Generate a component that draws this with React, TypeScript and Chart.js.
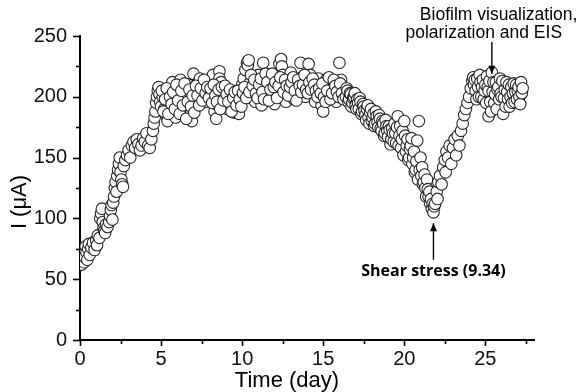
import React, { useEffect, useRef } from "react";
import { Chart, registerables } from "chart.js";

Chart.register(...registerables);

// ---- Data (day, current in µA) ----
const growthPhase: [number, number][] = [
  [0.05, 66], [0.1, 62], [0.15, 70], [0.2, 74], [0.25, 64], [0.3, 68], [0.35, 77], [0.4, 72],
  [0.45, 66], [0.5, 75], [0.55, 79], [0.6, 70], [0.7, 76], [0.8, 80], [0.9, 74], [1.0, 82],
  [1.05, 78], [1.1, 86], [1.2, 84], [1.25, 100], [1.3, 104], [1.35, 108], [1.4, 97], [1.45, 92],
  [1.5, 90], [1.55, 88], [1.6, 95], [1.7, 93], [1.8, 97], [1.85, 102], [1.9, 107], [1.95, 111],
  [2.0, 99], [2.05, 113], [2.1, 118], [2.15, 125], [2.2, 130], [2.25, 122], [2.3, 135], [2.35, 140],
  [2.4, 145], [2.45, 150], [2.5, 138], [2.55, 132], [2.6, 128], [2.65, 126], [2.7, 143], [2.8, 148],
  [2.9, 152], [3.0, 156], [3.1, 150], [3.2, 160], [3.3, 163], [3.4, 158], [3.5, 165], [3.6, 161],
  [3.7, 156], [3.8, 160], [3.9, 166], [4.0, 163], [4.1, 170], [4.2, 160], [4.3, 158], [4.4, 165],
  [4.5, 172], [4.55, 178], [4.6, 183], [4.65, 188], [4.7, 195], [4.75, 200], [4.8, 205], [4.85, 208],
  [4.9, 202], [4.95, 196], [5.0, 192],
];

const plateauPhase: [number, number][] = [
  [5.1, 200], [5.2, 190], [5.3, 185], [5.4, 180], [5.5, 195], [5.6, 205], [5.7, 212], [5.8, 199],
  [5.9, 183], [6.0, 190], [6.1, 208], [6.2, 214], [6.3, 202], [6.4, 196], [6.5, 188], [6.6, 200],
  [6.7, 210], [6.8, 185], [6.9, 180], [7.0, 219], [7.0, 194], [7.1, 204], [7.2, 198], [7.3, 212],
  [7.4, 215], [7.5, 206], [7.6, 200], [7.7, 210], [7.8, 196], [7.9, 203], [8.0, 213], [8.1, 205],
  [8.2, 218], [8.2, 198], [8.3, 188], [8.4, 182], [8.5, 193], [8.6, 221], [8.6, 215], [8.7, 212],
  [8.8, 200], [8.9, 203], [9.0, 195], [9.1, 190], [9.2, 200], [9.3, 198], [9.4, 192], [9.5, 187],
  [9.6, 201], [9.7, 195], [9.8, 186], [9.9, 204], [10.0, 210], [10.1, 215], [10.2, 222], [10.3, 228],
  [10.35, 226], [10.4, 230], [10.5, 212], [10.6, 205], [10.7, 200], [10.8, 196], [10.9, 210], [11.0, 218],
  [11.1, 206], [11.2, 193], [11.3, 228], [11.4, 214], [11.5, 209], [11.6, 203], [11.7, 216], [11.8, 212],
  [11.9, 200], [12.0, 194], [12.1, 205], [12.2, 213], [12.3, 227], [12.4, 231], [12.45, 225], [12.5, 218],
  [12.6, 210], [12.7, 196], [12.8, 208], [12.9, 215], [13.0, 220], [13.1, 205], [13.2, 198], [13.3, 212],
  [13.4, 208], [13.5, 202], [13.6, 228], [13.7, 216], [13.8, 207], [13.9, 200], [14.0, 211], [14.1, 227],
  [14.2, 218], [14.3, 209], [14.4, 204], [14.5, 196], [14.6, 213], [14.7, 215], [14.8, 210], [14.9, 193],
  [15.0, 188], [15.1, 206], [15.2, 214], [15.3, 210], [15.4, 204], [15.5, 212], [15.6, 207], [15.7, 199],
  [15.8, 196], [15.9, 210], [16.0, 228], [16.1, 214], [16.2, 208], [16.3, 204],
];

const plateauExtra: [number, number][] = [
  [5.05, 205], [5.15, 188], [5.25, 198], [5.35, 207], [5.45, 186], [5.55, 200], [5.65, 194], [5.75, 204],
  [5.85, 190], [5.95, 210], [6.05, 197], [6.15, 186], [6.25, 205], [6.35, 193], [6.45, 211], [6.55, 182],
  [6.65, 196], [6.75, 206], [6.85, 192], [6.95, 201], [7.05, 187], [7.15, 209], [7.25, 201], [7.35, 193],
  [7.45, 207], [7.55, 197], [7.65, 214], [7.75, 203], [7.85, 208], [7.95, 199], [8.05, 207], [8.15, 195],
  [8.25, 210], [8.35, 201], [8.45, 196], [8.55, 206], [8.65, 190], [8.75, 208], [8.85, 197], [8.95, 209],
  [9.05, 202], [9.15, 196], [9.25, 206], [9.35, 188], [9.45, 199], [9.55, 204], [9.65, 193], [9.75, 205],
  [9.85, 198], [9.95, 192], [10.05, 203], [10.15, 208], [10.25, 199], [10.45, 204], [10.55, 218], [10.65, 209],
  [10.75, 214], [10.85, 203], [10.95, 199], [11.05, 210], [11.15, 215], [11.25, 204], [11.35, 198], [11.45, 219],
  [11.55, 212], [11.65, 197], [11.75, 206], [11.85, 219], [11.95, 208], [12.05, 212], [12.15, 199], [12.25, 209],
  [12.35, 216], [12.55, 204], [12.65, 214], [12.75, 209], [12.85, 201], [12.95, 208], [13.05, 212], [13.15, 216],
  [13.25, 205], [13.35, 197], [13.45, 214], [13.55, 209], [13.65, 204], [13.75, 210], [13.85, 218], [13.95, 206],
  [14.05, 203], [14.15, 212], [14.25, 206], [14.35, 215], [14.45, 210], [14.55, 205], [14.65, 200], [14.75, 207],
  [14.85, 203], [14.95, 211], [15.05, 200], [15.15, 196], [15.25, 205], [15.35, 216], [15.45, 198], [15.55, 203],
  [15.65, 214], [15.75, 209], [15.85, 204], [15.95, 200], [16.05, 211], [16.15, 203], [16.25, 198],
];

const declinePhase: [number, number][] = [
  [16.4, 200], [16.45, 207], [16.5, 205], [16.55, 196], [16.6, 198], [16.65, 203], [16.7, 202], [16.75, 192],
  [16.8, 195], [16.85, 199], [16.9, 200], [16.95, 203], [17.0, 193], [17.05, 190], [17.1, 198], [17.15, 195],
  [17.2, 190], [17.25, 199], [17.3, 196], [17.35, 186], [17.4, 188], [17.45, 194], [17.5, 192], [17.55, 189],
  [17.6, 185], [17.65, 181], [17.7, 190], [17.75, 193], [17.8, 183], [17.85, 178], [17.9, 187], [17.95, 190],
  [18.0, 180], [18.05, 183], [18.1, 186], [18.15, 176], [18.2, 178], [18.25, 188], [18.3, 184], [18.35, 179],
  [18.4, 175], [18.45, 185], [18.5, 182], [18.55, 174], [18.6, 172], [18.65, 180], [18.7, 178], [18.75, 168],
  [18.8, 170], [18.85, 181], [18.9, 176], [18.95, 172], [19.0, 167], [19.05, 176], [19.1, 173], [19.15, 161],
  [19.2, 165], [19.25, 174], [19.3, 170], [19.35, 163], [19.4, 178], [19.45, 170], [19.5, 162], [19.55, 175],
  [19.6, 184], [19.65, 160], [19.7, 168], [19.75, 176], [19.8, 158], [19.85, 165], [19.9, 172], [19.95, 152],
  [20.0, 180], [20.05, 168], [20.1, 155], [20.15, 160], [20.2, 165], [20.25, 148], [20.3, 150], [20.35, 157],
  [20.4, 160], [20.45, 166], [20.5, 145], [20.55, 150], [20.6, 155], [20.65, 138], [20.7, 140], [20.75, 147],
  [20.8, 164], [20.85, 132], [20.9, 180], [20.95, 140], [21.0, 150], [21.05, 135], [21.1, 142], [21.15, 128],
  [21.2, 130], [21.25, 136], [21.3, 125], [21.35, 118], [21.4, 132], [21.45, 124], [21.5, 118], [21.55, 122],
  [21.6, 112], [21.65, 116], [21.7, 108], [21.75, 112], [21.8, 105], [21.85, 110],
];

const recoveryPhase: [number, number][] = [
  [21.9, 112], [22.0, 122], [22.05, 116], [22.1, 130], [22.2, 135], [22.3, 128], [22.4, 142], [22.5, 148],
  [22.55, 138], [22.6, 155], [22.7, 150], [22.8, 160], [22.9, 145], [23.0, 158], [23.1, 165], [23.2, 152],
  [23.3, 168], [23.4, 160], [23.5, 172], [23.6, 178], [23.7, 185], [23.8, 190], [23.9, 195], [24.0, 200],
  [24.1, 207], [24.2, 213], [24.25, 216], [24.3, 210], [24.35, 214], [24.4, 205], [24.45, 198], [24.5, 215],
  [24.55, 208], [24.6, 200], [24.65, 218], [24.7, 212], [24.75, 200], [24.8, 208], [24.85, 214], [24.9, 198],
  [24.95, 205], [25.0, 210], [25.05, 195], [25.1, 217], [25.15, 208], [25.2, 184], [25.2, 205], [25.25, 213],
  [25.3, 196], [25.35, 188], [25.4, 220], [25.45, 204], [25.5, 212], [25.55, 195], [25.6, 202], [25.65, 212],
  [25.7, 190], [25.75, 206], [25.8, 208], [25.85, 198], [25.9, 215], [25.95, 203], [26.0, 200], [26.05, 213],
  [26.1, 186], [26.15, 199], [26.2, 206], [26.25, 192], [26.3, 212], [26.35, 204], [26.4, 198], [26.45, 210],
  [26.5, 192], [26.55, 200], [26.6, 208], [26.65, 195], [26.7, 203], [26.75, 211], [26.8, 196], [26.85, 204],
  [26.9, 210], [26.95, 198], [27.0, 205], [27.05, 208], [27.1, 200], [27.15, 194], [27.2, 212], [27.25, 203],
  [27.3, 207],
];

// Axis setup
const xRange = [0, 28];
const yRange = [0, 250];
const xStep = 2.5;
const yStep = 25;
const xLabelEvery = 5;
const yLabelEvery = 50;

// Annotation anchors (in data units)
const shearAnchor = { x: 21.8, tipY: 96, tailY: 66, textY: 56, label: "Shear stress (9.34)" };
const biofilmAnchor = {
  x: 25.4,
  tipY: 219,
  tailY: 245,
  lines: [
    { text: "Biofilm visualization,", x: 25.82, y: 267.5 },
    { text: "polarization and EIS", x: 24.9, y: 252.5 },
  ],
};
const xTitle = "Time (day)";
const yTitle = "I (\u03BCA)";

const FONT = "'Liberation Sans', Arial, sans-serif";

function drawArrow(ctx: CanvasRenderingContext2D, x: number, y1: number, y2: number) {
  // y1 = tail, y2 = tip
  ctx.beginPath();
  ctx.moveTo(x, y1);
  ctx.lineTo(x, y2);
  ctx.stroke();
  const dir = y2 < y1 ? 1 : -1;
  ctx.beginPath();
  ctx.moveTo(x, y2);
  ctx.lineTo(x - 3.5, y2 + dir * 8);
  ctx.lineTo(x + 3.5, y2 + dir * 8);
  ctx.closePath();
  ctx.fill();
}

const decorPlugin = {
  id: "decor",
  afterDraw(chart: any) {
    const ctx: CanvasRenderingContext2D = chart.ctx;
    const xs = chart.scales.x;
    const ys = chart.scales.y;
    ctx.save();
    ctx.strokeStyle = "#000";
    ctx.fillStyle = "#000";
    ctx.lineWidth = 1.6;
    // tick marks
    xs.ticks.forEach((t: any) => {
      const px = Math.round(xs.getPixelForValue(t.value)) + 0.5;
      const major = Math.abs(t.value % xLabelEvery) < 1e-6;
      ctx.beginPath();
      ctx.moveTo(px, ys.bottom);
      ctx.lineTo(px, ys.bottom + (major ? 6 : 4));
      ctx.stroke();
    });
    ys.ticks.forEach((t: any) => {
      const py = Math.round(ys.getPixelForValue(t.value)) + 0.5;
      const major = Math.abs(t.value % yLabelEvery) < 1e-6;
      ctx.beginPath();
      ctx.moveTo(xs.left, py);
      ctx.lineTo(xs.left - (major ? 7 : 4), py);
      ctx.stroke();
    });

    // axis titles
    ctx.font = `22px ${FONT}`;
    ctx.textAlign = "center";
    ctx.textBaseline = "middle";
    ctx.fillText(xTitle, 287, 381);
    ctx.save();
    ctx.translate(20, 202);
    ctx.rotate(-Math.PI / 2);
    ctx.fillText(yTitle, 0, 0);
    ctx.restore();

    // shear stress annotation
    ctx.lineWidth = 1.4;
    const sx = xs.getPixelForValue(shearAnchor.x);
    drawArrow(ctx, sx, ys.getPixelForValue(shearAnchor.tailY), ys.getPixelForValue(shearAnchor.tipY));
    ctx.font = `bold 16px 'Open Sans', ${FONT}`;
    ctx.fillText(shearAnchor.label, sx, ys.getPixelForValue(shearAnchor.textY));

    // biofilm annotation
    const bx = xs.getPixelForValue(biofilmAnchor.x);
    drawArrow(ctx, bx, ys.getPixelForValue(biofilmAnchor.tailY), ys.getPixelForValue(biofilmAnchor.tipY));
    ctx.font = `17.5px ${FONT}`;
    biofilmAnchor.lines.forEach((l) => {
      ctx.fillText(l.text, xs.getPixelForValue(l.x), ys.getPixelForValue(l.y));
    });
    ctx.restore();
  },
};

export default function App() {
  const canvasRef = useRef<HTMLCanvasElement | null>(null);

  useEffect(() => {
    if (!canvasRef.current) return;
    const points = [...growthPhase, ...plateauPhase, ...plateauExtra, ...declinePhase, ...recoveryPhase]
      .map(([x, y]) => ({ x, y }));
    const chart = new Chart(canvasRef.current, {
      type: "scatter",
      data: {
        datasets: [
          {
            data: points,
            pointStyle: "circle",
            pointRadius: 5.8,
            pointBorderWidth: 1.1,
            pointBorderColor: "rgba(20,20,20,0.9)",
            pointBackgroundColor: "#ffffff",
          },
        ],
      },
      options: {
        animation: false,
        responsive: false,
        events: [],
        layout: { padding: { top: 36, right: 45, left: 0, bottom: 0 } },
        plugins: { legend: { display: false }, tooltip: { enabled: false } },
        scales: {
          x: {
            type: "linear",
            min: xRange[0],
            max: xRange[1],
            grid: { display: false, drawTicks: false, tickLength: 0 },
            border: { display: true, color: "#000", width: 2 },
            ticks: {
              stepSize: xStep,
              includeBounds: false,
              autoSkip: false,
              maxRotation: 0,
              padding: 7,
              color: "#111",
              font: { family: FONT, size: 20 },
              callback: (v: any) => (Math.abs(Number(v) % xLabelEvery) < 1e-6 ? String(v) : ""),
            },
            afterFit: (scale: any) => {
              scale.height = 52;
            },
          },
          y: {
            type: "linear",
            min: yRange[0],
            max: yRange[1],
            grid: { display: false, drawTicks: false, tickLength: 0 },
            border: { display: true, color: "#000", width: 2 },
            ticks: {
              stepSize: yStep,
              autoSkip: false,
              padding: 13,
              color: "#111",
              font: { family: FONT, size: 20 },
              callback: (v: any) => (Math.abs(Number(v) % yLabelEvery) < 1e-6 ? String(v) : ""),
            },
            afterFit: (scale: any) => {
              scale.width = 80;
            },
          },
        },
      },
      plugins: [decorPlugin],
    });
    return () => chart.destroy();
  }, []);

  return (
    <div style={{ position: "absolute", left: 0, top: 0, width: 579, height: 392, background: "#fff" }}>
      <canvas ref={canvasRef} width={579} height={392} />
    </div>
  );
}
